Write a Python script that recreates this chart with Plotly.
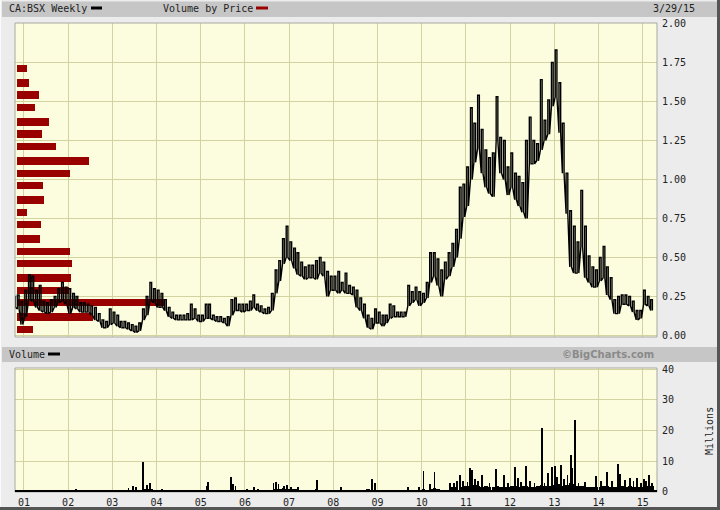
import plotly.graph_objects as go
import pandas as pd

# ---------------- data ----------------
first_month = "2000-10-01"
n_months = 174  # Oct 2000 .. Mar 2015

price_low = [
    0.18, 0.17, 0.07,
    0.12, 0.23, 0.22, 0.18, 0.16, 0.15, 0.14, 0.15, 0.18, 0.21, 0.22, 0.20,
    0.14, 0.18, 0.17, 0.15, 0.15, 0.15, 0.13, 0.10, 0.09, 0.05, 0.05, 0.07,
    0.08, 0.06, 0.05, 0.05, 0.04, 0.03, 0.02, 0.03, 0.10, 0.13, 0.22, 0.21,
    0.18, 0.18, 0.16, 0.12, 0.11, 0.10, 0.10, 0.10, 0.10, 0.10, 0.11, 0.09,
    0.09, 0.11, 0.11, 0.10, 0.09, 0.09, 0.08, 0.06, 0.13, 0.16, 0.16, 0.15,
    0.16, 0.16, 0.18, 0.16, 0.15, 0.14, 0.14, 0.16, 0.27, 0.35, 0.46, 0.50,
    0.48, 0.43, 0.39, 0.38, 0.36, 0.37, 0.37, 0.36, 0.40, 0.38, 0.25, 0.29,
    0.29, 0.27, 0.29, 0.27, 0.27, 0.26, 0.18, 0.16, 0.11, 0.05, 0.04, 0.08,
    0.08, 0.06, 0.08, 0.11, 0.12, 0.12, 0.12, 0.12, 0.19, 0.21, 0.23, 0.19,
    0.21, 0.24, 0.34, 0.38, 0.32, 0.25, 0.36, 0.38, 0.44, 0.50, 0.62, 0.76,
    0.83, 1.00, 1.11, 1.20, 1.04, 0.95, 0.91, 0.89, 1.25, 1.04, 1.00, 0.90,
    0.95, 0.87, 0.83, 0.79, 0.75, 1.10, 1.10, 1.12, 1.19, 1.25, 1.29, 1.47,
    1.53, 1.30, 1.04, 0.78, 0.44, 0.40, 0.40, 0.57, 0.37, 0.34, 0.31, 0.31,
    0.35, 0.37, 0.26, 0.23, 0.14, 0.14, 0.20, 0.20, 0.19, 0.15, 0.10, 0.11,
    0.20, 0.19, 0.16,
]
price_high = [
    0.25, 0.26, 0.22,
    0.29, 0.39, 0.38, 0.29, 0.32, 0.22, 0.21, 0.23, 0.25, 0.30, 0.34, 0.31,
    0.30, 0.27, 0.25, 0.21, 0.21, 0.20, 0.19, 0.18, 0.14, 0.10, 0.09, 0.17,
    0.15, 0.13, 0.09, 0.09, 0.08, 0.07, 0.06, 0.08, 0.17, 0.25, 0.34, 0.30,
    0.29, 0.27, 0.23, 0.18, 0.15, 0.13, 0.13, 0.13, 0.14, 0.20, 0.17, 0.13,
    0.13, 0.20, 0.20, 0.13, 0.12, 0.12, 0.11, 0.12, 0.23, 0.24, 0.20, 0.20,
    0.20, 0.22, 0.26, 0.20, 0.19, 0.17, 0.18, 0.27, 0.42, 0.48, 0.62, 0.70,
    0.60, 0.56, 0.53, 0.47, 0.44, 0.45, 0.45, 0.48, 0.50, 0.47, 0.41, 0.38,
    0.38, 0.41, 0.34, 0.40, 0.32, 0.31, 0.29, 0.24, 0.20, 0.13, 0.11, 0.17,
    0.15, 0.13, 0.13, 0.20, 0.19, 0.15, 0.15, 0.15, 0.32, 0.28, 0.31, 0.28,
    0.27, 0.34, 0.53, 0.53, 0.49, 0.42, 0.47, 0.53, 0.59, 0.68, 0.95, 0.97,
    1.08, 1.46, 1.36, 1.54, 1.32, 1.19, 1.14, 1.17, 1.53, 1.27, 1.25, 1.08,
    1.17, 1.04, 1.02, 0.98, 1.25, 1.40, 1.25, 1.23, 1.64, 1.38, 1.51, 1.75,
    1.83, 1.62, 1.36, 1.04, 0.80, 0.70, 0.60, 0.93, 0.70, 0.51, 0.44, 0.42,
    0.50, 0.57, 0.44, 0.37, 0.23, 0.25, 0.26, 0.26, 0.25, 0.22, 0.16, 0.16,
    0.29, 0.25, 0.23,
]

# volume by price (price level, relative volume)
vbp_price = [0.04, 0.12, 0.21, 0.29, 0.37, 0.46, 0.54, 0.62, 0.71, 0.79, 0.87,
             0.96, 1.04, 1.12, 1.21, 1.29, 1.37, 1.46, 1.54, 1.62, 1.71]
vbp_volume = [16, 76, 148, 52, 54, 55, 53, 23, 24, 10, 27,
              26, 53, 72, 39, 25, 32, 18, 22, 12, 10]

# typical weekly volume per month (millions)
vol_base = [
    0.1, 0.1, 0.2,
    0.2, 0.2, 0.1, 0.1, 0.1, 0.1, 0.1, 0.1, 0.1, 0.1, 0.1, 0.1,
    0.2, 0.3, 0.2, 0.1, 0.1, 0.1, 0.1, 0.1, 0.1, 0.1, 0.1, 0.1,
    0.1, 0.1, 0.2, 0.2, 0.4, 0.5, 0.6, 0.6, 0.9, 1.0, 0.8, 0.5,
    0.4, 0.3, 0.2, 0.2, 0.1, 0.1, 0.1, 0.1, 0.1, 0.1, 0.1, 0.1,
    0.1, 0.3, 0.6, 0.3, 0.1, 0.1, 0.1, 0.2, 0.9, 0.7, 0.4, 0.3,
    0.3, 0.4, 0.5, 0.3, 0.3, 0.2, 0.2, 0.4, 0.9, 1.0, 1.1, 1.0,
    1.0, 0.8, 0.7, 0.6, 0.7, 0.6, 0.6, 0.9, 0.6, 0.6, 0.5, 0.4,
    0.4, 0.5, 0.4, 0.3, 0.3, 0.3, 0.3, 0.3, 0.5, 1.0, 0.7, 0.4,
    0.3, 0.2, 0.2, 0.2, 0.2, 0.2, 0.2, 0.2, 0.6, 0.5, 0.5, 0.6,
    1.0, 0.7, 1.0, 1.2, 0.8, 0.6, 0.5, 0.6, 1.5, 1.6, 1.5, 1.8,
    1.9, 2.4, 2.2, 1.8, 1.6, 1.8, 1.5, 1.5, 1.8, 1.5, 1.5, 1.6,
    1.9, 1.8, 1.6, 1.9, 1.8, 1.6, 1.6, 1.8, 2.1, 2.0, 1.9, 2.3,
    2.5, 2.4, 2.0, 2.3, 2.7, 2.6, 1.8, 1.8, 1.6, 1.5, 1.5, 1.5,
    1.6, 1.8, 1.8, 1.6, 1.5, 1.9, 1.7, 1.6, 1.7, 1.5, 1.6, 1.6,
    1.8, 2.0, 1.8,
]

# notable weekly volume spikes (millions)
spike_dates = [
    "2002-03-08", "2003-05-16", "2003-06-20", "2003-07-18", "2003-09-12",
    "2003-10-17", "2003-11-07", "2004-02-13", "2005-02-18", "2005-03-04",
    "2005-09-09", "2005-09-23", "2005-10-14", "2006-01-20", "2006-03-17",
    "2006-04-21", "2006-08-25", "2006-09-15", "2006-10-06", "2006-11-17",
    "2006-12-15", "2007-01-19", "2007-03-16", "2007-08-17", "2008-03-07",
    "2008-11-14", "2008-12-12", "2009-09-11", "2009-12-11", "2010-01-15",
    "2010-03-12", "2010-04-16", "2010-08-20", "2010-09-24", "2010-10-22",
    "2010-11-12", "2010-12-10", "2011-01-14", "2011-02-04", "2011-02-18",
    "2011-03-18", "2011-04-08", "2011-05-13", "2011-07-15", "2011-09-09",
    "2011-11-11", "2011-12-16", "2012-02-10", "2012-03-09", "2012-03-30",
    "2012-05-11", "2012-06-15", "2012-07-20", "2012-09-21", "2012-10-12",
    "2012-11-09", "2012-12-14", "2013-01-04", "2013-01-25", "2013-02-22",
    "2013-03-22", "2013-04-19", "2013-05-17", "2013-05-31", "2013-06-21",
    "2013-07-19", "2013-09-13", "2013-12-13", "2014-01-24", "2014-03-14",
    "2014-04-25", "2014-06-13", "2014-06-27", "2014-08-08", "2014-09-19",
    "2014-10-17", "2014-11-14", "2014-12-19", "2015-01-09", "2015-01-30",
    "2015-02-20", "2015-03-20",
]
spike_vals = [
    1.0, 1.3, 2.0, 1.6, 9.6,
    2.3, 3.0, 1.0, 2.0, 3.3,
    4.8, 2.5, 2.0, 0.9, 1.6,
    1.0, 3.0, 3.2, 2.4, 1.8,
    2.2, 1.6, 1.4, 3.8, 1.6,
    4.0, 3.0, 1.5, 1.5, 6.8,
    2.5, 6.3, 3.0, 2.8, 3.5,
    5.6, 3.5, 3.2, 7.8, 7.0,
    4.0, 3.5, 5.3, 3.0, 7.5,
    5.3, 3.0, 8.0, 4.5, 3.2,
    8.4, 3.5, 3.0, 20.9, 2.8,
    6.0, 8.0, 8.3, 4.7, 8.8,
    4.0, 5.5, 11.9, 7.6, 23.5,
    3.0, 3.2, 5.0, 3.5, 6.4,
    3.5, 9.0, 5.8, 3.8, 4.6,
    3.6, 4.4, 3.0, 4.2, 3.5,
    5.4, 3.0,
]

year_ticks = ["%d-01-01" % y for y in range(2001, 2016)]
year_labels = ["01", "02", "03", "04", "05", "06", "07", "08", "09", "10",
               "11", "12", "13", "14", "15"]
price_ticks = [0.0, 0.25, 0.5, 0.75, 1.0, 1.25, 1.5, 1.75, 2.0]
vol_ticks = [0, 10, 20, 30, 40]

# ---------------- figure ----------------
months = pd.date_range(first_month, periods=n_months, freq="MS")
d1 = months + pd.Timedelta(days=7)
d2 = months + pd.Timedelta(days=21)

# each month drawn as two high-low strokes (weekly-bar look)
px_, py_ = [], []
for a, b, lo, hi in zip(d1, d2, price_low, price_high):
    px_ += [a, a, b, b]
    py_ += [lo, hi, hi, lo]

X_RANGE = ["2000-10-19", "2015-04-29"]
MONO = "DejaVu Sans Mono"
GRID = "#d3d3a2"
BG = "#fcfcdf"
DAY_MS = 86400000
VBP_BASE = "2000-11-02"         # left end of volume-by-price bars
VBP_UNIT_MS = 8.264 * DAY_MS    # one relative unit of bar length

fig = go.Figure()

# volume-by-price bars (horizontal, under the price line)
fig.add_trace(go.Bar(
    y=vbp_price, x=[v * VBP_UNIT_MS for v in vbp_volume],
    base=[VBP_BASE] * len(vbp_price), orientation="h", width=0.048,
    marker=dict(color="#990000", line=dict(width=0)),
    xaxis="x", yaxis="y", hoverinfo="skip", showlegend=False))

# price
fig.add_trace(go.Scatter(
    x=px_, y=py_, mode="lines", line=dict(color="#000000", width=1.4),
    xaxis="x", yaxis="y", hoverinfo="skip", showlegend=False))

# volume
fig.add_trace(go.Bar(
    x=months + pd.Timedelta(days=15), y=vol_base, width=30.4 * DAY_MS,
    marker=dict(color="#000000", line=dict(width=0)),
    xaxis="x2", yaxis="y2", hoverinfo="skip", showlegend=False))
fig.add_trace(go.Bar(
    x=pd.to_datetime(spike_dates), y=spike_vals, width=6 * DAY_MS,
    marker=dict(color="#000000", line=dict(width=0)),
    xaxis="x2", yaxis="y2", hoverinfo="skip", showlegend=False))

PRICE_DOM = [0.3305, 1.0]
VOL_DOM = [0.0, 0.2644]

fig.update_layout(
    width=720, height=510,
    margin=dict(l=15, r=63, t=23, b=18, autoexpand=False),
    paper_bgcolor="#ececec", plot_bgcolor=BG,
    barmode="overlay", bargap=0,
    showlegend=False,
    font=dict(family=MONO, size=10, color="#222222"),
    xaxis=dict(domain=[0, 1], anchor="y", type="date", range=X_RANGE,
               tickvals=year_ticks, showticklabels=False, showgrid=True,
               gridcolor=GRID, gridwidth=1, zeroline=False, showline=False,
               ticks="", automargin=False),
    yaxis=dict(domain=PRICE_DOM, anchor="x", side="right",
               range=[-0.0096, 2.003], tickvals=price_ticks,
               tickformat=".2f", showgrid=True, gridcolor=GRID,
               zeroline=False, showline=False, ticks="",
               ticklabelstandoff=4, automargin=False,
               tickfont=dict(family=MONO, size=10, color="#222222")),
    xaxis2=dict(domain=[0, 1], anchor="y2", type="date", range=X_RANGE,
                tickvals=year_ticks, ticktext=year_labels, showgrid=True,
                gridcolor=GRID, zeroline=False, showline=False, ticks="",
                ticklabelstandoff=3, automargin=False,
                tickfont=dict(family=MONO, size=10, color="#222222")),
    yaxis2=dict(domain=VOL_DOM, anchor="x2", side="right",
                range=[-0.1, 40.4], tickvals=vol_ticks, showgrid=True,
                gridcolor=GRID, zeroline=False, showline=False, ticks="",
                ticklabelstandoff=4, automargin=False,
                tickfont=dict(family=MONO, size=10, color="#222222")),
)

def PX(v):
    return (v - 15) / 642.0

def PY(v):
    return (492 - v) / 469.0

shapes = []
# header bands
shapes.append(dict(type="rect", xref="paper", yref="paper", layer="below",
                   x0=PX(2), x1=PX(718), y0=PY(17), y1=PY(1.5),
                   fillcolor="#c6c6c6", line=dict(width=0)))
shapes.append(dict(type="rect", xref="paper", yref="paper", layer="below",
                   x0=PX(2), x1=PX(718), y0=PY(362), y1=PY(347),
                   fillcolor="#c6c6c6", line=dict(width=0)))
# panel borders
shapes.append(dict(type="rect", xref="paper", yref="paper",
                   x0=0, x1=1, y0=PRICE_DOM[0], y1=PRICE_DOM[1],
                   line=dict(color="#a8a8a0", width=1)))
shapes.append(dict(type="rect", xref="paper", yref="paper",
                   x0=0, x1=1, y0=VOL_DOM[0], y1=VOL_DOM[1],
                   line=dict(color="#a8a8a0", width=1)))
shapes.append(dict(type="line", xref="paper", yref="paper",
                   x0=0, x1=1, y0=PY(491), y1=PY(491),
                   line=dict(color="#000000", width=2)))
# legend swatches
shapes.append(dict(type="line", xref="paper", yref="paper",
                   x0=PX(91), x1=PX(102), y0=PY(8), y1=PY(8),
                   line=dict(color="#000000", width=3)))
shapes.append(dict(type="line", xref="paper", yref="paper",
                   x0=PX(256), x1=PX(268), y0=PY(8), y1=PY(8),
                   line=dict(color="#990000", width=3)))
shapes.append(dict(type="line", xref="paper", yref="paper",
                   x0=PX(48), x1=PX(60), y0=PY(354), y1=PY(354),
                   line=dict(color="#000000", width=3)))
# outer frame
shapes.append(dict(type="line", xref="paper", yref="paper",
                   x0=PX(0.5), x1=PX(0.5), y0=PY(0), y1=PY(510),
                   line=dict(color="#fafafa", width=1)))
shapes.append(dict(type="line", xref="paper", yref="paper",
                   x0=PX(718.5), x1=PX(718.5), y0=PY(0), y1=PY(510),
                   line=dict(color="#555555", width=3)))
shapes.append(dict(type="line", xref="paper", yref="paper",
                   x0=PX(0), x1=PX(720), y0=PY(508.5), y1=PY(508.5),
                   line=dict(color="#555555", width=3)))
fig.update_layout(shapes=shapes)

ann = [
    dict(text="CA:BSX Weekly", x=PX(7), y=PY(8.5), xanchor="left"),
    dict(text="Volume by Price", x=PX(161), y=PY(8.5), xanchor="left"),
    dict(text="3/29/15", x=PX(697), y=PY(8.5), xanchor="right"),
    dict(text="Volume", x=PX(7), y=PY(354.5), xanchor="left"),
]
annotations = []
for a in ann:
    annotations.append(dict(xref="paper", yref="paper", yanchor="middle",
                            showarrow=False,
                            font=dict(family=MONO, size=10, color="#222222"),
                            **a))
annotations.append(dict(text="©BigCharts.com", xref="paper", yref="paper",
                        x=PX(656), y=PY(354.5), xanchor="right",
                        yanchor="middle", showarrow=False,
                        font=dict(family="DejaVu Sans", size=10,
                                  color="#8a8a8a", weight="bold")))
annotations.append(dict(text="Millions", xref="paper", yref="paper",
                        x=PX(709), y=PY(431), xanchor="center",
                        yanchor="middle", textangle=-90, showarrow=False,
                        font=dict(family=MONO, size=10, color="#222222")))
fig.update_layout(annotations=annotations)

fig.write_html("out.html",
               config={"displayModeBar": False},
               post_script="document.body.style.margin='0';"
                           "document.body.style.padding='0';")
